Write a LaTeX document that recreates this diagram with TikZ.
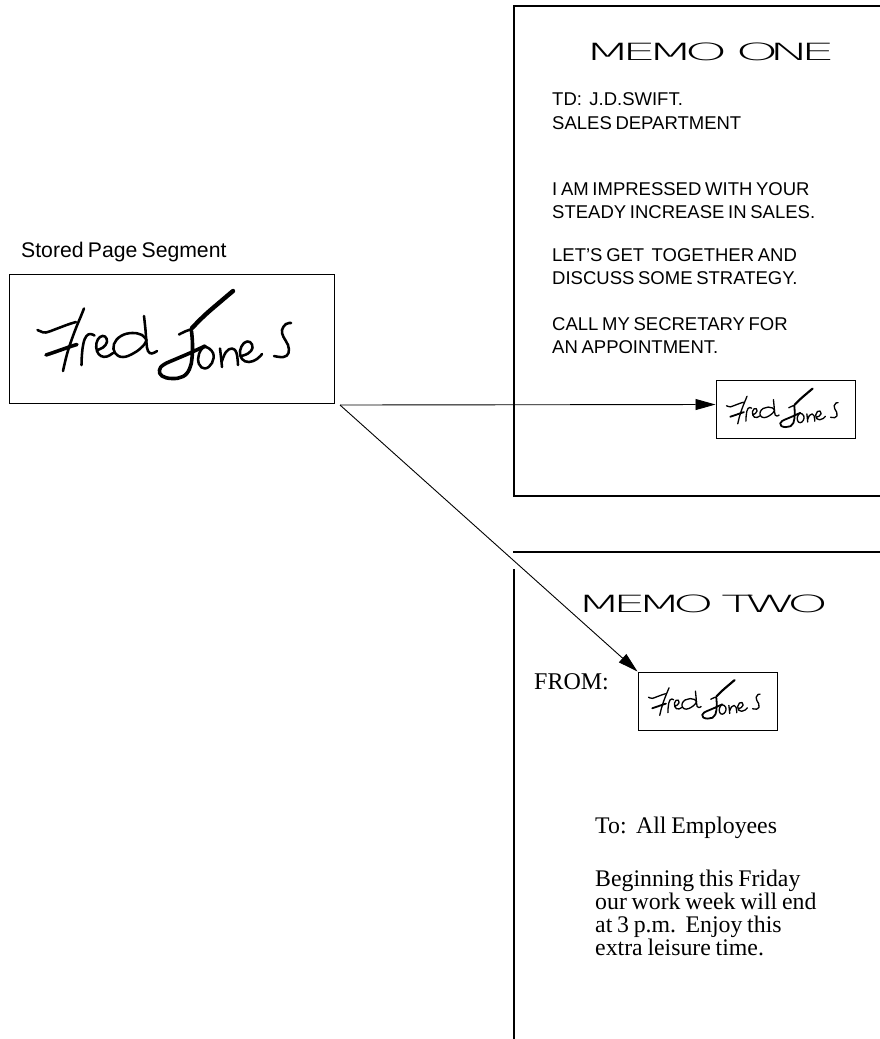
\documentclass[tikz,border=0pt]{standalone}
\usepackage{fontspec}
\setmainfont{Liberation Serif}
\newfontfamily\arialf{Liberation Sans}
\IfFontExistsTF{DejaVu Sans ExtraLight}{\newfontfamily\thinf[LetterSpace=-18]{DejaVu Sans ExtraLight}}{%
  \IfFontExistsTF{DejaVuSans-ExtraLight.ttf}{\newfontfamily\thinf[LetterSpace=-18]{DejaVuSans-ExtraLight.ttf}}{%
    \newfontfamily\thinf[LetterSpace=-18]{DejaVu Sans}}}
\usetikzlibrary{arrows.meta}
\frenchspacing
\newcommand\tightsp{\spaceskip=0.2em\relax}
\newcommand\sansfnt{\arialf\fontsize{18.5}{22}\selectfont\tightsp}
\newcommand\segfnt{\arialf\fontsize{21.2}{24}\selectfont\tightsp}
\newcommand\seriffnt{\fontsize{23.8}{28}\selectfont\tightsp}
\newcommand\fromfnt{\fontsize{24}{28}\selectfont}
\newcommand\titlefnt{\thinf\fontsize{23.7}{28}\selectfont}
\tikzset{
  frame/.style={line width=1.6pt, line cap=rect},
  conn/.style={line width=0.9pt, -{Triangle[length=20pt,width=11pt]}},
  sigbox/.style={draw, line width=1pt, inner sep=0pt, minimum width=139pt, minimum height=58pt},
  segbox/.style={draw, line width=1pt, inner sep=0pt, minimum width=325pt, minimum height=129pt},
  sansline/.style={anchor=base west, inner sep=0pt, font=\sansfnt},
  serifline/.style={anchor=base west, inner sep=0pt, font=\seriffnt},
  memotitle/.style={anchor=base, inner sep=0pt, font=\titlefnt},
  pics/signature/.style={code={
    \begin{scope}[scale=#1, shift={(-171.5,-338.5)}, line cap=round, line join=round, line width={2.2pt*#1+0.35pt}]
      % F
      \draw plot[smooth, tension=0.7] coordinates {(37.5,330) (41,331.5) (46,332.5) (56,329) (68,324.5) (76,322)};
      \draw plot[smooth, tension=0.7] coordinates {(84,308.5) (81,316) (76,328) (70.5,343) (66.5,356) (63,371)};
      \draw[line width={3.2pt*#1+0.4pt}] plot[smooth, tension=0.7] coordinates {(46,355) (52,353) (62,349.5) (72,346) (77,344.5)};
      % r
      \draw plot[smooth, tension=0.7] coordinates {(81.5,365) (82,354) (83.5,343) (86.5,336) (90.5,334) (94.5,335.5)};
      % e
      \draw plot[smooth, tension=0.7] coordinates {(97,350) (103,347.5) (107,342) (105,336.5) (100,337) (96.5,343) (97,351) (101,356) (107,356.5) (113,353)};
      % d
      \draw plot[smooth, tension=0.7] coordinates {(146.5,340) (142,335) (132,333) (121,336) (114,344) (115,353) (123,357) (134,353) (143,346) (146.5,340)};
      \draw plot[smooth, tension=0.7] coordinates {(144,316) (145.5,330) (146.5,343) (148,351) (152,353.5) (157,351)};
      % J
      \draw plot[smooth, tension=0.7] coordinates {(179,334.5) (185,331.5) (192,329)};
      \draw[line width={4pt*#1+0.4pt}] plot[smooth, tension=0.7] coordinates {(233,291) (220,302) (205,315) (192,328)};
      \draw[line width={3.2pt*#1+0.4pt}] plot[smooth, tension=0.7] coordinates {(191.5,331) (192.5,344) (192,358) (189.5,369) (183,376.5) (172,378.5) (162,376) (159.5,370) (164,364.5) (176,359) (190,353) (205,346)};
      % o
      \draw plot[smooth cycle, tension=0.7] coordinates {(205,347) (199,354) (199,364) (205,368.5) (212,363) (213,353)};
      % n
      \draw plot[smooth, tension=0.7] coordinates {(220,348.5) (221,357) (222,367)};
      \draw plot[smooth, tension=0.7] coordinates {(222,361) (226,352) (232,348.5) (236.5,353) (238,365)};
      % e
      \draw plot[smooth, tension=0.7] coordinates {(241,356) (248,353.5) (252.5,348) (250,342) (244,343) (240,351) (242,359) (249,362) (257,359) (262,354)};
      % s
      \draw plot[smooth, tension=0.7] coordinates {(291,323) (286,324) (282,330) (283.5,337) (288,345) (288.5,353) (283.5,357) (274,356)};
    \end{scope}}}
}
\begin{document}
\begin{tikzpicture}[x=1pt,y=-1pt]
\useasboundingbox[fill=white] (0,0) rectangle (880,1039);

% stored page segment
\node[sansline, font=\segfnt] (seglabel) at (21,257) {Stored Page Segment};
\node[segbox] (seg) at (171.5,338.5) {};
\pic at (seg.center) {signature=1};

% memo one
\draw[frame] (880,6) -- (514,6) -- (514,496) -- (880,496);
\node[memotitle] (t1) at (709.5,60) {\scalebox{2.33}[1]{MEMO ONE}};
\node[sansline] (a1) at (552,105) {TD:~ J.D.SWIFT.};
\node[sansline] (a2) at (552,129) {SALES DEPARTMENT};
\node[sansline] (b1) at (552,195) {I AM IMPRESSED WITH YOUR};
\node[sansline] (b2) at (552,218) {STEADY INCREASE IN SALES.};
\node[sansline] (c1) at (552,261) {LET’S GET~ TOGETHER AND};
\node[sansline] (c2) at (552,284) {DISCUSS SOME STRATEGY.};
\node[sansline] (d1) at (552,330) {CALL MY SECRETARY FOR};
\node[sansline] (d2) at (552,353) {AN APPOINTMENT.};
\node[sigbox] (sig1) at (785.5,409.5) {};
\pic at (sig1.center) {signature=0.44};

% memo two
\draw[frame] (514,552) -- (880,552);
\draw[frame] (514,570) -- (514,1039);
\node[memotitle] (t2) at (702.5,612) {\scalebox{2.23}[1]{MEMO TWO}};
\node[serifline, font=\fromfnt] (from) at (534,689) {FROM:};
\node[sigbox] (sig2) at (707.5,701) {};
\pic at (sig2.center) {signature=0.44};
\node[serifline] (to) at (595,833) {To:~ All Employees};
\node[serifline] (e1) at (595,886) {Beginning this Friday};
\node[serifline] (e2) at (595,909) {our work week will end};
\node[serifline] (e3) at (595,932) {at 3 p.m.~ Enjoy this};
\node[serifline] (e4) at (595,955) {extra leisure time.};

% connectors
\coordinate (src) at (340,405);
\draw[conn] (src) -- ([yshift=5pt]sig1.west);
\draw[conn] (src) -- (sig2.north west);
\end{tikzpicture}
\end{document}
